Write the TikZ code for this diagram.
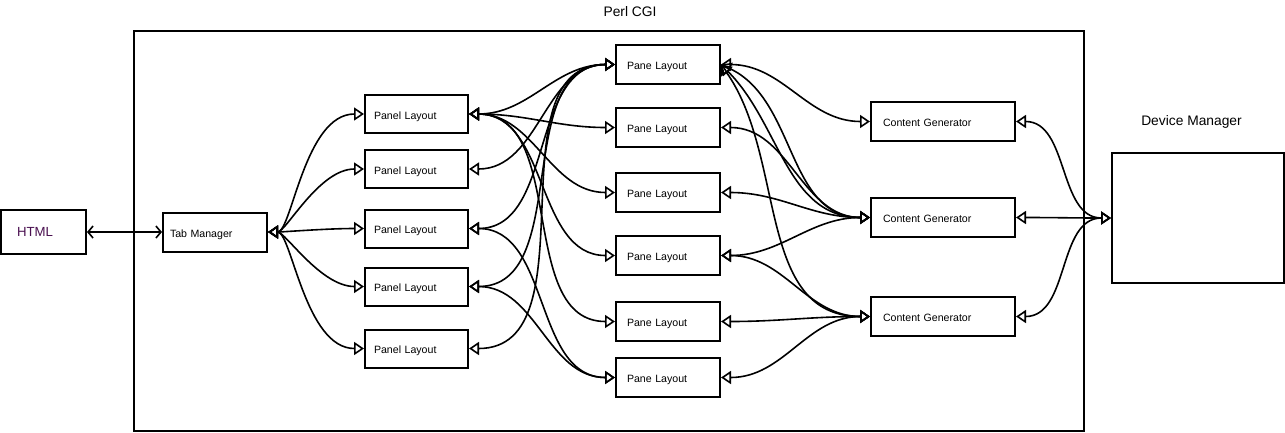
\documentclass[tikz,border=0pt]{standalone}
\usepackage{fontspec}
\setmainfont{Liberation Sans}
\usetikzlibrary{arrows.meta, positioning}
\definecolor{htmlpurple}{HTML}{4A1050}

\tikzset{
  box/.style={draw=black, line width=2pt, fill=white, minimum height=39pt, align=left, text height=12.6pt, text depth=2.2pt, font=\fontsize{10.6}{10.6}\selectfont},
  link/.style={line width=1.6pt, {Triangle[open, length=10pt, width=13pt]}-{Triangle[open, length=10pt, width=13pt]}, out=0, in=180},
  plain/.style={line width=1.6pt, {Straight Barb[length=5pt, width=12pt]}-{Straight Barb[length=5pt, width=12pt]}},
  title/.style={font=\fontsize{13.8}{13.8}\selectfont}
}

\begin{document}
\begin{tikzpicture}[x=1pt, y=-1pt]
  \useasboundingbox (0,0) rectangle (1285,432);

  % Perl CGI frame
  \node[draw=black, line width=2pt, minimum width=950pt, minimum height=400pt] (cgi) at (609,231) {};
  \node[title] (cgititle) at (630,12) {Perl CGI};

  % HTML and tab manager
  \node[box, minimum height=44pt, inner xsep=16pt, text width=53pt, text height=9.5pt, text depth=0pt, font=\fontsize{13.2}{13.2}\selectfont, text=htmlpurple] (html) at (43.5,232) {HTML};
  \node[box, inner xsep=7pt, text width=90pt] (tab) at (215,232) {Tab Manager};

  % Panel layouts
  \foreach \i/\y in {1/114, 2/169, 3/228.5, 4/286.5, 5/348.5} {
    \node[box, minimum height=38pt, inner xsep=9pt, text width=85pt] (pl\i) at (416.5,\y) {Panel Layout};
  }

  % Pane layouts
  \foreach \i/\y in {1/64.5, 2/127.5, 3/192.5, 4/255.5, 5/321.5, 6/377.5} {
    \node[box, inner xsep=11pt, text width=82pt] (pn\i) at (668,\y) {Pane Layout};
  }

  % Content generators
  \foreach \i/\y in {1/121.5, 2/217.5, 3/316.5} {
    \node[box, inner xsep=12pt, text width=120pt] (cg\i) at (943,\y) {Content Generator};
  }

  % Device manager
  \node[draw=black, line width=2pt, minimum width=172pt, minimum height=130pt] (dm) at (1198,218) {};
  \node[title] (dmtitle) at (1191.5,122) {Device Manager};

  % HTML to tab manager
  \draw[plain] (html.east) -- (tab.west);

  % Tab manager to panels
  \foreach \i in {1,...,5} {
    \draw[link, out looseness=0.4] (tab.east) to (pl\i.west);
  }

  % Panels to panes
  \foreach \a/\b in {1/1, 1/2, 1/3, 1/4, 1/5, 2/1, 3/1, 3/6, 4/1, 4/6, 5/1} {
    \draw[link] (pl\a.east) to (pn\b.west);
  }

  % Panes to content generators
  \foreach \a/\b in {1/1, 2/2, 3/2, 4/2, 4/3, 5/3, 6/3} {
    \draw[link] (pn\a.east) to (cg\b.west);
  }
  \draw[link, out=-25] (pn1.east) to (cg2.west);
  \draw[link, out=-45] (pn1.east) to (cg2.west);
  \draw[link, out=-55] (pn1.east) to (cg3.west);

  % Content generators to device manager
  \foreach \i in {1,2,3} {
    \draw[link] (cg\i.east) to (dm.west);
  }
\end{tikzpicture}
\end{document}
